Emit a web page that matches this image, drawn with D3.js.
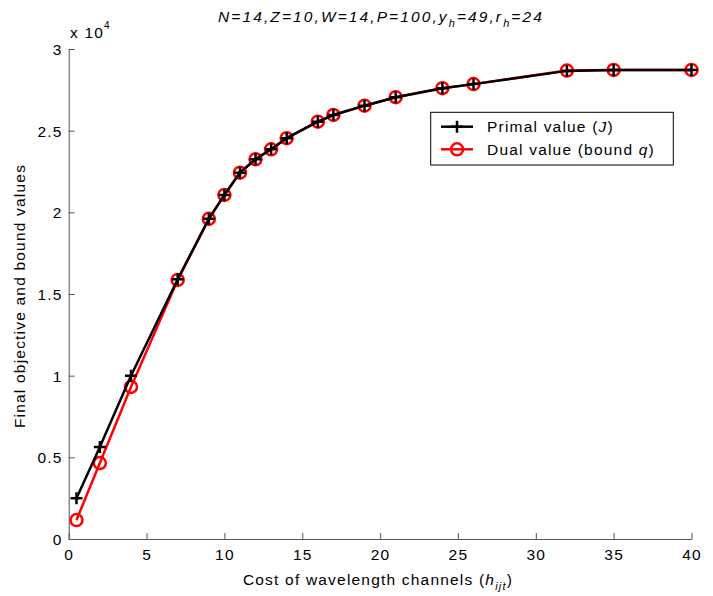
<!DOCTYPE html>
<html><head><meta charset="utf-8">
<script src="https://cdn.jsdelivr.net/npm/d3@7"></script>
<style>body{margin:0;background:#fff}svg{display:block;font-family:"Liberation Sans",Arial,Helvetica,sans-serif}text{letter-spacing:1.2px}</style>
</head><body>
<script>
const costs = [0.5, 2, 4, 7, 9, 10, 11, 12, 13, 14, 16, 17, 19, 21, 24, 26, 32, 35, 40];
const primal = [2500, 5630, 10000, 15900, 19600, 21065, 22430, 23250, 23860, 24540, 25550, 25960, 26530, 27050, 27600, 27850, 28660, 28720, 28720];
const dual = [1160, 4650, 9310, 15860, 19600, 21065, 22430, 23250, 23860, 24540, 25550, 25960, 26530, 27050, 27600, 27850, 28680, 28720, 28720];
const xTicks = [0, 5, 10, 15, 20, 25, 30, 35, 40];
const yTicks = [0, 5000, 10000, 15000, 20000, 25000, 30000];

const W = 713, H = 596;
const svg = d3.select("body").append("svg").attr("width", W).attr("height", H);
const L = 68.7, R = 691.5, T = 49, B = 539;
const x = d3.scaleLinear().domain([0, 40]).range([L, R]);
const y = d3.scaleLinear().domain([0, 30000]).range([B, T]);
const axCol = "#555";

// axes
const xa = svg.append("g").attr("transform", `translate(0,${B})`)
  .call(d3.axisBottom(x).tickValues(xTicks).tickSizeInner(-6).tickSizeOuter(0).tickPadding(10).tickFormat(d3.format("d")));
const ya = svg.append("g").attr("transform", `translate(${L},0)`)
  .call(d3.axisLeft(y).tickValues(yTicks).tickSizeInner(-6).tickSizeOuter(0).tickPadding(6).tickFormat(d => d3.format("")(d / 10000)));
[xa, ya].forEach(g => {
  g.select(".domain").attr("stroke", axCol).attr("stroke-width", 1);
  g.selectAll(".tick line").attr("stroke", axCol);
  g.selectAll(".tick text").attr("fill", "#000").attr("font-size", 15.5).attr("font-family", "Liberation Sans, Arial, sans-serif");
});
ya.selectAll(".tick text").attr("dy", "0.35em");

// exponent label
const ex = svg.append("text").attr("x", 70).attr("y", 38).attr("font-size", 15.5);
ex.append("tspan").text("x 10");
ex.append("tspan").attr("dy", -9).attr("font-size", 10).text("4");

// title
const ti = svg.append("text").attr("x", 381).attr("y", 22).attr("text-anchor", "middle").attr("font-size", 15.5).attr("font-style", "italic").style("letter-spacing", "2.1px");
ti.append("tspan").text("N=14,Z=10,W=14,P=100,y");
ti.append("tspan").attr("dy", 5).attr("font-size", 11).text("h");
ti.append("tspan").attr("dy", -5).text("=49,r");
ti.append("tspan").attr("dy", 5).attr("font-size", 11).text("h");
ti.append("tspan").attr("dy", -5).text("=24");

// axis labels
const xl = svg.append("text").attr("x", 378).attr("y", 585).attr("text-anchor", "middle").attr("font-size", 15.5);
xl.append("tspan").text("Cost of wavelength channels (");
xl.append("tspan").attr("font-style", "italic").text("h");
xl.append("tspan").attr("font-style", "italic").attr("dy", 5).attr("font-size", 11).text("ijt");
xl.append("tspan").attr("dy", -5).text(")");

svg.append("text").attr("transform", "translate(25,296) rotate(-90)").attr("text-anchor", "middle").attr("font-size", 15.5)
  .text("Final objective and bound values");

// series
const line = d3.line().x(d => x(d[0])).y(d => y(d[1]));
const dualPts = costs.map((c, i) => [c, dual[i]]);
const primPts = costs.map((c, i) => [c, primal[i]]);

svg.append("path").datum(dualPts).attr("d", line).attr("fill", "none").attr("stroke", "#ff0000").attr("stroke-width", 2.5);
svg.selectAll("circle.d").data(dualPts).enter().append("circle").attr("class", "d")
  .attr("cx", d => x(d[0])).attr("cy", d => y(d[1])).attr("r", 6).attr("fill", "none").attr("stroke", "#ff0000").attr("stroke-width", 2.5);

svg.append("path").datum(primPts).attr("d", line).attr("fill", "none").attr("stroke", "#000").attr("stroke-width", 2.5);
const plus = (sx, sy, s) => `M${sx - s},${sy}H${sx + s}M${sx},${sy - s}V${sy + s}`;
svg.selectAll("path.p").data(primPts).enter().append("path").attr("class", "p")
  .attr("d", d => plus(x(d[0]), y(d[1]), 6)).attr("stroke", "#000").attr("stroke-width", 2.5).attr("fill", "none");

// legend
const lg = svg.append("g");
lg.append("rect").attr("x", 430.7).attr("y", 112.3).attr("width", 242.6).attr("height", 52.7).attr("fill", "#fff").attr("stroke", "#000").attr("stroke-width", 1);
const r1 = 126.7, r2 = 149.3;
lg.append("line").attr("x1", 441).attr("x2", 473).attr("y1", r1).attr("y2", r1).attr("stroke", "#000").attr("stroke-width", 2.5);
lg.append("path").attr("d", plus(457, r1, 6)).attr("stroke", "#000").attr("stroke-width", 2.5);
lg.append("line").attr("x1", 441).attr("x2", 473).attr("y1", r2).attr("y2", r2).attr("stroke", "#ff0000").attr("stroke-width", 2.5);
lg.append("circle").attr("cx", 457).attr("cy", r2).attr("r", 6).attr("fill", "none").attr("stroke", "#ff0000").attr("stroke-width", 2.5);
const t1 = lg.append("text").attr("x", 487).attr("y", r1 + 5.5).attr("font-size", 15.5);
t1.append("tspan").text("Primal value (");
t1.append("tspan").attr("font-style", "italic").text("J");
t1.append("tspan").text(")");
const t2 = lg.append("text").attr("x", 487).attr("y", r2 + 5.5).attr("font-size", 15.5);
t2.append("tspan").text("Dual value (bound ");
t2.append("tspan").attr("font-style", "italic").text("q");
t2.append("tspan").text(")");
</script>
</body></html>
